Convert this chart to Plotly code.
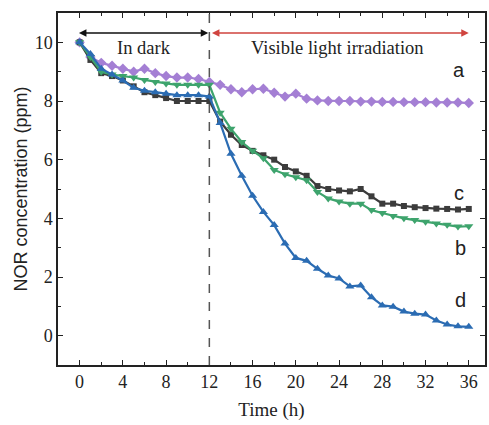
import plotly.graph_objects as go

time_h = list(range(0, 37))
series_a = [10.0, 9.5, 9.3, 9.2, 9.1, 9.0, 9.1, 8.95, 8.85, 8.8, 8.8, 8.75, 8.65, 8.55, 8.4, 8.3,
            8.4, 8.42, 8.28, 8.15, 8.25, 8.08, 8.02, 8.0, 8.0, 8.0, 7.98, 7.98, 7.97, 7.97, 7.96,
            7.96, 7.96, 7.95, 7.95, 7.95, 7.93]
series_c = [10.0, 9.4, 8.95, 8.85, 8.7, 8.5, 8.3, 8.2, 8.1, 8.0, 8.0, 8.0, 8.0, 7.3, 6.85, 6.5,
            6.3, 6.15, 6.0, 5.75, 5.6, 5.45, 5.1, 5.0, 4.95, 4.92, 5.0, 4.75, 4.5, 4.5, 4.42,
            4.38, 4.35, 4.33, 4.32, 4.3, 4.32]
series_b = [10.0, 9.5, 9.0, 8.9, 8.85, 8.8, 8.72, 8.65, 8.6, 8.55, 8.55, 8.55, 8.55, 7.6, 7.05, 6.6,
            6.3, 6.05, 5.65, 5.5, 5.4, 5.3, 4.9, 4.68, 4.57, 4.5, 4.5, 4.28, 4.18, 4.08, 4.0,
            3.94, 3.88, 3.82, 3.78, 3.72, 3.73]
series_d = [10.0, 9.6, 9.1, 8.9, 8.7, 8.45, 8.35, 8.3, 8.25, 8.2, 8.2, 8.2, 8.15, 7.25, 6.2, 5.45,
            4.77, 4.22, 3.77, 3.14, 2.65, 2.55, 2.28, 2.05, 1.95, 1.68, 1.71, 1.31, 1.03, 0.99, 0.82,
            0.75, 0.72, 0.52, 0.38, 0.32, 0.3]

x_ticks = list(range(0, 37, 4))
y_ticks = list(range(0, 11, 2))

SERIF = "Liberation Serif, Times New Roman"
SANS = "Liberation Sans, Arial"

fig = go.Figure()

styles = [
    ("a", series_a, "#a47fd4", "diamond", 8),
    ("c", series_c, "#3c3c3c", "square", 6),
    ("b", series_b, "#3ea46d", "triangle-down", 8),
    ("d", series_d, "#2b6cb3", "triangle-up", 8),
]
for name, vals, col, sym, sz in styles:
    fig.add_trace(go.Scatter(x=time_h, y=vals, mode="lines+markers", name=name,
                             line=dict(color=col, width=2.2),
                             marker=dict(symbol=sym, size=sz, color=col),
                             showlegend=False))

# curve labels
for txt, xx, yy in [("a", 35.1, 9.05), ("c", 35.1, 4.85), ("b", 35.2, 3.0), ("d", 35.2, 1.2)]:
    fig.add_annotation(x=xx, y=yy, text=txt, showarrow=False,
                       font=dict(family=SANS, size=20, color="#222"))

# region arrows
fig.add_annotation(x=11.9, y=10.32, ax=-0.2, ay=10.32, axref="x", ayref="y", xref="x", yref="y",
                   text="", showarrow=True, arrowside="end+start", arrowhead=2, arrowsize=1,
                   arrowwidth=1.5, arrowcolor="#111")
fig.add_annotation(x=36.0, y=10.32, ax=12.1, ay=10.32, axref="x", ayref="y", xref="x", yref="y",
                   text="", showarrow=True, arrowside="end+start", arrowhead=2, arrowsize=1,
                   arrowwidth=1.5, arrowcolor="#d0443f")
fig.add_annotation(x=6, y=9.8, text="In dark", showarrow=False,
                   font=dict(family=SERIF, size=18.5, color="#222"))
fig.add_annotation(x=23.9, y=9.8, text="Visible light irradiation", showarrow=False,
                   font=dict(family=SERIF, size=18.5, color="#222"))

fig.add_shape(type="line", x0=12, x1=12, y0=0, y1=1, xref="x", yref="paper",
              line=dict(color="#555", width=1.5, dash="dash"))

axis_common = dict(showline=True, linecolor="#222", linewidth=1.5, mirror="ticks",
                   ticks="inside", ticklen=5, tickwidth=1.2, tickcolor="#222",
                   showgrid=False, zeroline=False,
                   tickfont=dict(family=SERIF, size=18, color="#222"),
                   minor=dict(ticks="inside", ticklen=3, tickcolor="#222"))

fig.update_xaxes(range=[-2, 37.5], tickvals=x_ticks, minor_dtick=2, minor_tick0=0,
                 title=dict(text="Time (h)", standoff=11,
                            font=dict(family=SERIF, size=19, color="#222")),
                 **axis_common)
fig.update_yaxes(range=[-1, 11], tickvals=y_ticks, minor_dtick=1, minor_tick0=0,
                 title=dict(text="NOR concentration (ppm)", standoff=2,
                            font=dict(family=SANS, size=18, color="#222")),
                 **axis_common)

fig.update_layout(width=489, height=425, margin=dict(l=58, r=2, t=13, b=60),
                  plot_bgcolor="white", paper_bgcolor="white")

fig.write_html("out.html")
